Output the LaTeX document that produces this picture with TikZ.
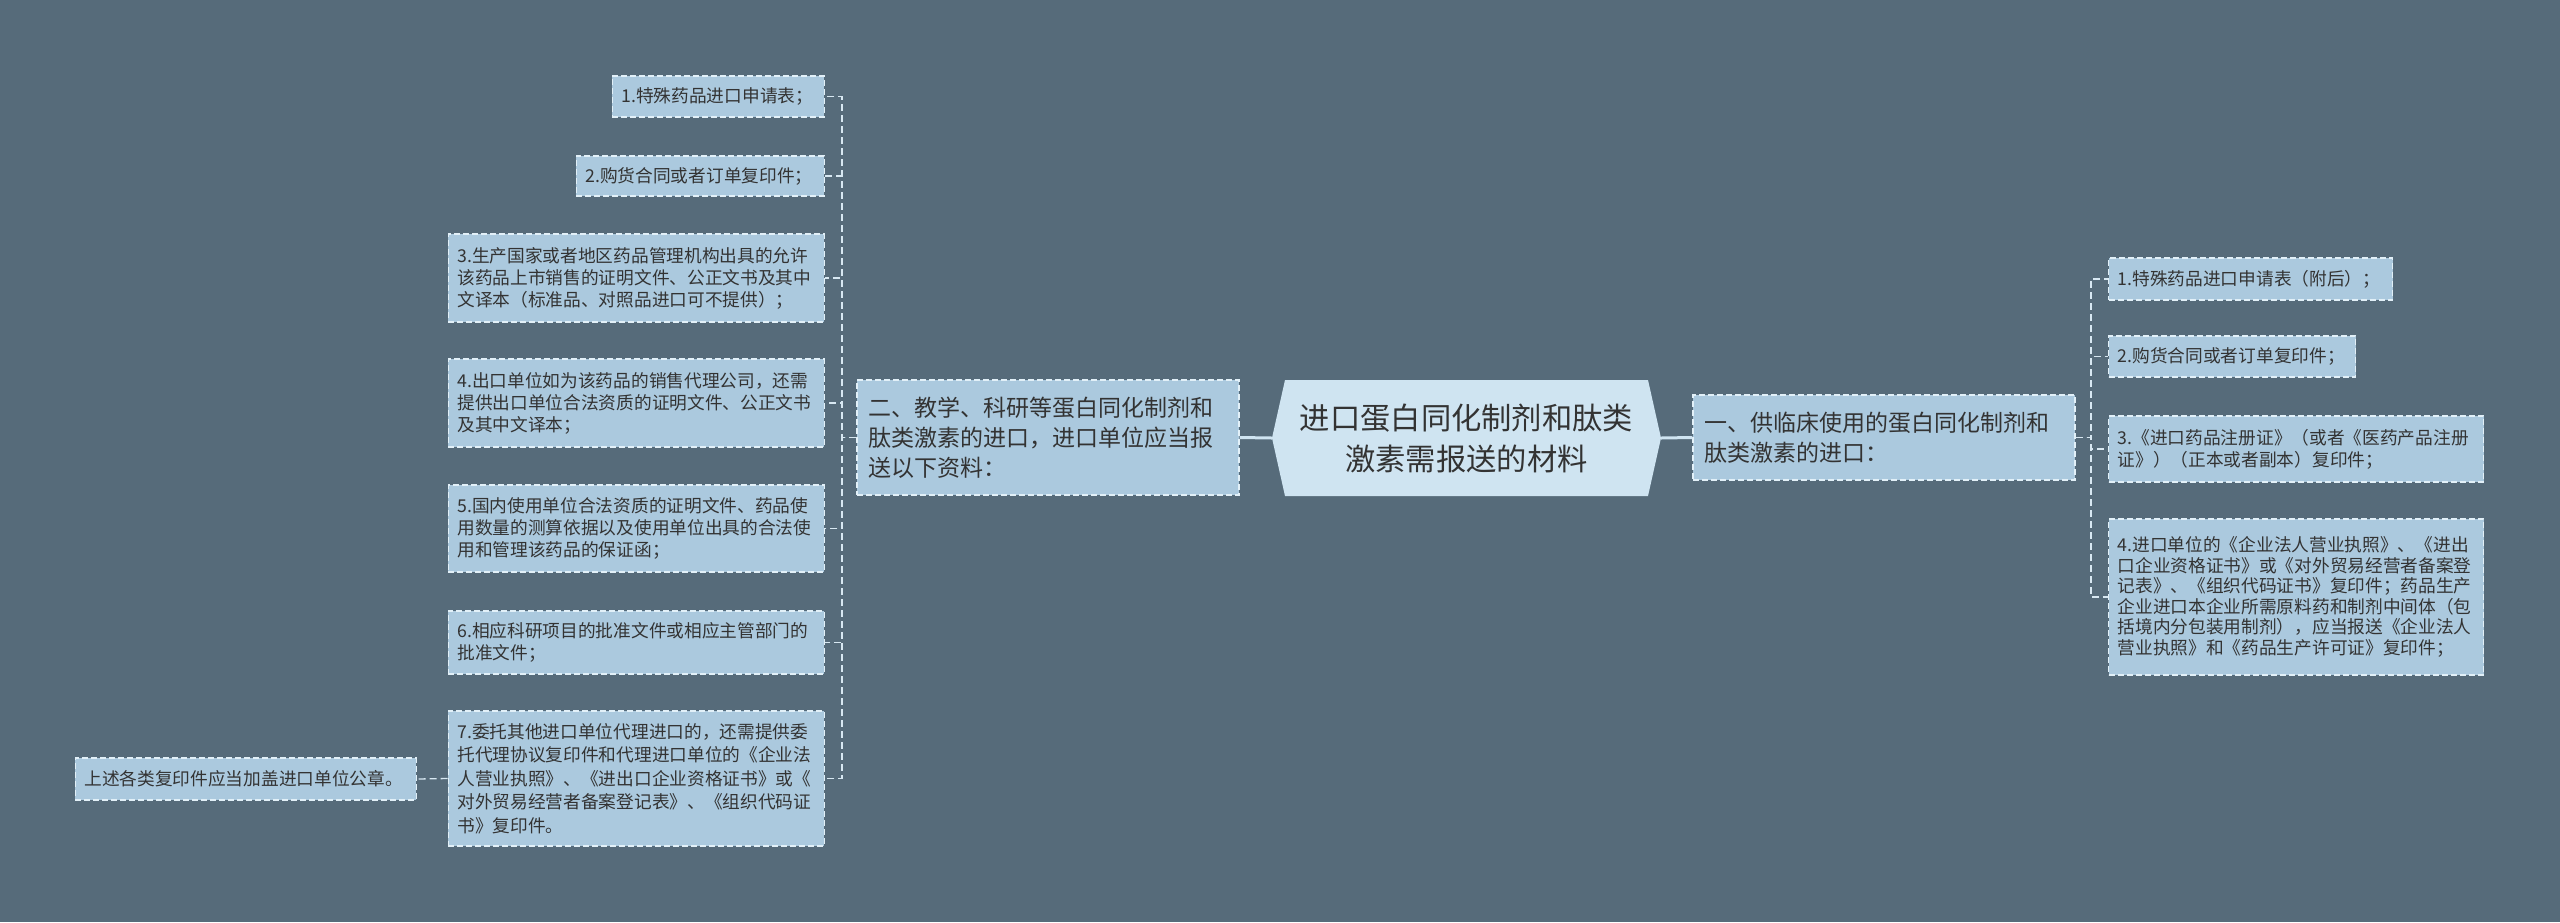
\documentclass[tikz,border=0pt]{standalone}
\usepackage{fontspec}
\setmainfont{Noto Sans CJK SC}
\definecolor{bgc}{HTML}{566B7A}
\definecolor{leafc}{HTML}{ABC9DE}
\definecolor{rootc}{HTML}{CFE4F1}
\definecolor{bordc}{HTML}{E2F0F8}
\definecolor{connc}{HTML}{D8E8F2}
\definecolor{txtc}{HTML}{333333}
\tikzset{
  leaf/.style={draw=bordc, line width=1.3pt, dash pattern=on 6pt off 3pt,
    fill=leafc, text=txtc, font=\fontsize{17.7}{22}\selectfont, align=left,
    inner xsep=9pt, inner ysep=0pt},
  branch/.style={leaf, font=\fontsize{23}{30}\selectfont, inner xsep=11pt},
  conn/.style={draw=connc, line width=1.3pt, dash pattern=on 7pt off 4pt},
  trunk/.style={draw=rootc, line width=3pt},
}
\begin{document}
\begin{tikzpicture}[x=1pt,y=-1pt]
\useasboundingbox[fill=bgc] (0,0) rectangle (2560,922);
% root
\fill[rootc] (1285,380) -- (1648,380) -- (1661,438) -- (1648,496) -- (1285,496) -- (1272,438) -- cycle;
\node[minimum width=389pt, minimum height=116pt, inner sep=0pt, align=center, text=txtc,
  font=\fontsize{30.3}{41}\selectfont] (root) at (1466.5,438) {进口蛋白同化制剂和肽类\\激素需报送的材料};
% branches
\node[branch, minimum height=115pt, text width=360pt] (lb) at (1048,437.5)
  {二、教学、科研等蛋白同化制剂和\\肽类激素的进口，进口单位应当报\\送以下资料：};
\node[branch, minimum height=85pt, text width=360pt] (rb) at (1884,437.5)
  {一、供临床使用的蛋白同化制剂和\\肽类激素的进口：};
% left leaves
\node[leaf, anchor=east, minimum height=41pt, text width=194pt] (l1) at (825,96.5) {1.特殊药品进口申请表；};
\node[leaf, anchor=east, minimum height=40pt, text width=230pt] (l2) at (825,176) {2.购货合同或者订单复印件；};
\node[leaf, anchor=east, minimum height=88pt, text width=358pt] (l3) at (825,278)
  {3.生产国家或者地区药品管理机构出具的允许\\该药品上市销售的证明文件、公正文书及其中\\文译本（标准品、对照品进口可不提供）；};
\node[leaf, anchor=east, minimum height=88pt, text width=358pt] (l4) at (825,403)
  {4.出口单位如为该药品的销售代理公司，还需\\提供出口单位合法资质的证明文件、公正文书\\及其中文译本；};
\node[leaf, anchor=east, minimum height=87pt, text width=358pt] (l5) at (825,528.5)
  {5.国内使用单位合法资质的证明文件、药品使\\用数量的测算依据以及使用单位出具的合法使\\用和管理该药品的保证函；};
\node[leaf, anchor=east, minimum height=63pt, text width=358pt] (l6) at (825,642.5)
  {6.相应科研项目的批准文件或相应主管部门的\\批准文件；};
\node[leaf, anchor=east, minimum height=135pt, text width=358pt, font=\fontsize{17.7}{23.5}\selectfont] (l7) at (825,778.5)
  {7.委托其他进口单位代理进口的，还需提供委\\托代理协议复印件和代理进口单位的《企业法\\人营业执照》、《进出口企业资格证书》或《\\对外贸易经营者备案登记表》、《组织代码证\\书》复印件。};
\node[leaf, anchor=east, minimum height=42pt, text width=323pt] (ll) at (417,779) {上述各类复印件应当加盖进口单位公章。};
% right leaves
\node[leaf, anchor=west, minimum height=42pt, text width=266pt] (r1) at (2108,279) {1.特殊药品进口申请表（附后）；};
\node[leaf, anchor=west, minimum height=41pt, text width=229pt] (r2) at (2108,356.5) {2.购货合同或者订单复印件；};
\node[leaf, anchor=west, minimum height=66pt, text width=357pt] (r3) at (2108,449)
  {3.《进口药品注册证》（或者《医药产品注册\\证》）（正本或者副本）复印件；};
\node[leaf, anchor=west, minimum height=156pt, text width=357pt, font=\fontsize{17.7}{20.5}\selectfont] (r4) at (2108,597)
  {4.进口单位的《企业法人营业执照》、《进出\\口企业资格证书》或《对外贸易经营者备案登\\记表》、《组织代码证书》复印件；药品生产\\企业进口本企业所需原料药和制剂中间体（包\\括境内分包装用制剂），应当报送《企业法人\\营业执照》和《药品生产许可证》复印件；};
% connectors
\draw[trunk] (root.west) -- (lb.east);
\draw[trunk] (root.east) -- (rb.west);
\coordinate (lj) at (842,437.5);
\coordinate (rj) at (2091,437.5);
\foreach \n in {l1,l2,l3,l4,l5,l6,l7} \draw[conn] (lb.west) -- (lj) |- (\n.east);
\draw[conn] (l7.west) -- (ll.east);
\foreach \n in {r1,r2,r3,r4} \draw[conn] (rb.east) -- (rj) |- (\n.west);
\end{tikzpicture}
\end{document}
